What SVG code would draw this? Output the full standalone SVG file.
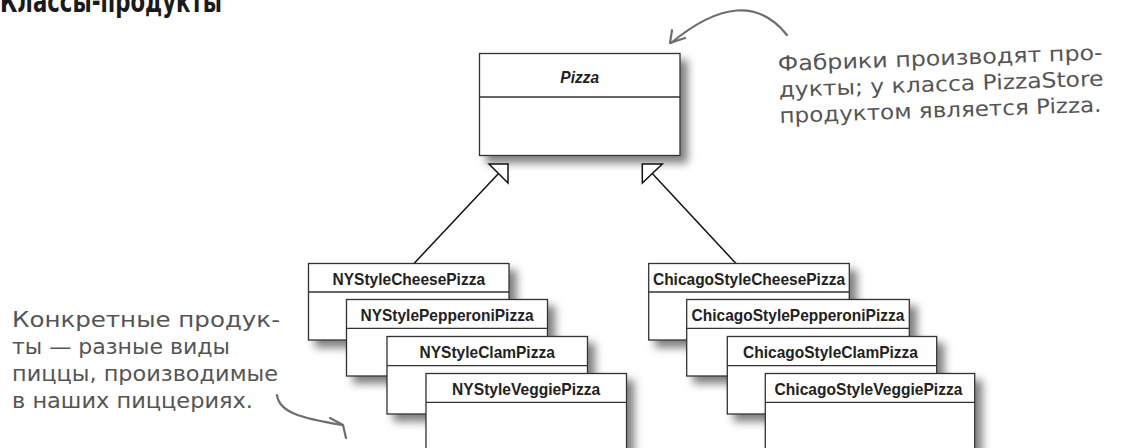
<svg xmlns="http://www.w3.org/2000/svg" width="1126" height="448" viewBox="0 0 1126 448">
<defs>
<filter id="sh" x="-10%" y="-10%" width="130%" height="150%">
<feDropShadow dx="7" dy="7" stdDeviation="4" flood-color="#000" flood-opacity="0.5"/>
</filter>
<style>
.box rect{fill:#fff;stroke:#333;stroke-width:1.3}
.box line{stroke:#333;stroke-width:1.3}
.cls{font-family:"Liberation Sans",Arial,sans-serif;font-weight:bold;font-size:16.5px;fill:#222;text-anchor:middle}
.abs{font-style:italic}
.note{font-family:"DejaVu Sans",sans-serif;font-size:21px;fill:#555}
.hand{fill:none;stroke:#6e6e6e;stroke-width:2.2;stroke-linecap:round;stroke-linejoin:round}
.conn{stroke:#111;stroke-width:1.5;fill:none}
.tri{fill:#fff;stroke:#111;stroke-width:1.5;stroke-linejoin:miter}
.title{font-family:"DejaVu Sans Condensed","DejaVu Sans",sans-serif;font-weight:bold;font-size:30px;fill:#1a1a1a}
</style>
</defs>
<rect width="1126" height="448" fill="#fff"/>

<text class="title" x="0" y="12" textLength="222" lengthAdjust="spacingAndGlyphs">Классы-продукты</text>

<g id="pizza" class="box">
<rect x="479.5" y="53.5" width="200.5" height="102" filter="url(#sh)"/>
<line x1="479.5" y1="97" x2="680" y2="97"/>
<text class="cls abs" x="579.7" y="82.7" textLength="38.8" lengthAdjust="spacingAndGlyphs">Pizza</text>
</g>

<g id="connectors">
<line class="conn" x1="498.5" y1="173.5" x2="414" y2="263.5"/>
<polygon class="tri" points="489,164 508,164 508,183"/>
<line class="conn" x1="652.3" y1="173.5" x2="736" y2="263.5"/>
<polygon class="tri" points="642.3,164 662.3,164 642.3,183"/>
</g>

<g id="ny-cheese" class="box">
<rect x="308.5" y="263.5" width="200.5" height="76.5" filter="url(#sh)"/>
<line x1="308.5" y1="292" x2="509" y2="292"/>
<text class="cls" x="408.8" y="285" textLength="152.5" lengthAdjust="spacingAndGlyphs">NYStyleCheesePizza</text>
</g>
<g id="ny-pepperoni" class="box">
<rect x="346.5" y="299.5" width="201" height="76.5" filter="url(#sh)"/>
<line x1="346.5" y1="328.3" x2="547.5" y2="328.3"/>
<text class="cls" x="447" y="321" textLength="173.1" lengthAdjust="spacingAndGlyphs">NYStylePepperoniPizza</text>
</g>
<g id="ny-clam" class="box">
<rect x="387" y="336.5" width="200.5" height="77.5" filter="url(#sh)"/>
<line x1="387" y1="365.7" x2="587.5" y2="365.7"/>
<text class="cls" x="487.2" y="358.3" textLength="135.2" lengthAdjust="spacingAndGlyphs">NYStyleClamPizza</text>
</g>
<g id="ny-veggie" class="box">
<rect x="426" y="373.5" width="200.5" height="85" filter="url(#sh)"/>
<line x1="426" y1="402.3" x2="626.5" y2="402.3"/>
<text class="cls" x="526.2" y="395" textLength="148.2" lengthAdjust="spacingAndGlyphs">NYStyleVeggiePizza</text>
</g>

<g id="chicago-cheese" class="box">
<rect x="648.7" y="263.5" width="200.6" height="76.5" filter="url(#sh)"/>
<line x1="648.7" y1="292" x2="849.3" y2="292"/>
<text class="cls" x="749" y="285" textLength="192.1" lengthAdjust="spacingAndGlyphs">ChicagoStyleCheesePizza</text>
</g>
<g id="chicago-pepperoni" class="box">
<rect x="686.7" y="299.5" width="222.6" height="76.5" filter="url(#sh)"/>
<line x1="686.7" y1="328.3" x2="909.3" y2="328.3"/>
<text class="cls" x="798" y="321" textLength="212.8" lengthAdjust="spacingAndGlyphs">ChicagoStylePepperoniPizza</text>
</g>
<g id="chicago-clam" class="box">
<rect x="727.3" y="336.5" width="209.4" height="77.5" filter="url(#sh)"/>
<line x1="727.3" y1="365.7" x2="936.7" y2="365.7"/>
<text class="cls" x="830.5" y="358.3" textLength="174.9" lengthAdjust="spacingAndGlyphs">ChicagoStyleClamPizza</text>
</g>
<g id="chicago-veggie" class="box">
<rect x="765.3" y="373.5" width="209.4" height="85" filter="url(#sh)"/>
<line x1="765.3" y1="402.3" x2="974.7" y2="402.3"/>
<text class="cls" x="868.5" y="395" textLength="187.8" lengthAdjust="spacingAndGlyphs">ChicagoStyleVeggiePizza</text>
</g>

<g id="note-factories">
<path class="hand" d="M787,35 Q745,-18 671,43"/>
<path class="hand" d="M672,30 L670,43 L685,38"/>
<g transform="rotate(-2 778 71)">
<text class="note" x="778" y="71" textLength="325" lengthAdjust="spacingAndGlyphs">Фабрики производят про-</text>
<text class="note" x="778" y="97" textLength="325" lengthAdjust="spacingAndGlyphs">дукты; у класса PizzaStore</text>
<text class="note" x="778" y="123" textLength="322" lengthAdjust="spacingAndGlyphs">продуктом является Pizza.</text>
</g>
</g>

<g id="note-products">
<text class="note" x="12" y="327" textLength="268" lengthAdjust="spacingAndGlyphs">Конкретные продук-</text>
<text class="note" x="12" y="354" textLength="218" lengthAdjust="spacingAndGlyphs">ты — разные виды</text>
<text class="note" x="12" y="381" textLength="266" lengthAdjust="spacingAndGlyphs">пиццы, производимые</text>
<text class="note" x="12" y="408" textLength="241" lengthAdjust="spacingAndGlyphs">в наших пиццериях.</text>
<path class="hand" d="M277,395 C279,412 300,418 342,425"/>
<path class="hand" d="M330,418 L343,425 L346,438"/>
</g>
</svg>
